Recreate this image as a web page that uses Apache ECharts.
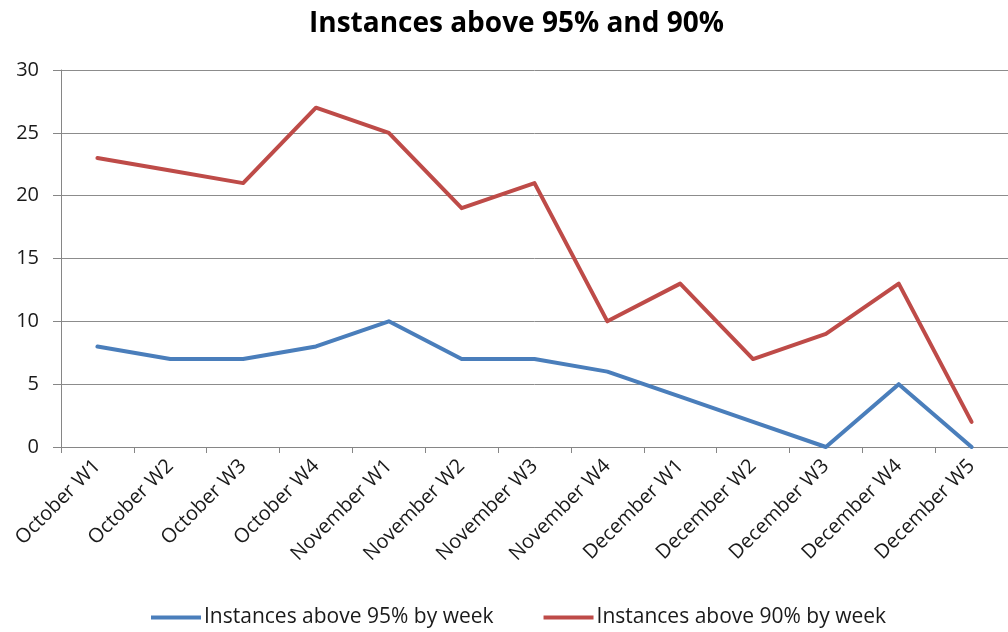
<!DOCTYPE html>
<html>
<head>
<meta charset="utf-8">
<script src="https://cdn.jsdelivr.net/npm/echarts@6/dist/echarts.min.js"></script>
<style>
  html, body { margin: 0; padding: 0; background: #fff; }
  #chart { width: 1008px; height: 632px; }
</style>
</head>
<body>
<div id="chart"></div>
<script>
// Weekly counts of instances above the 95% and 90% thresholds
const weeks = [
  'October W1', 'October W2', 'October W3', 'October W4',
  'November W1', 'November W2', 'November W3', 'November W4',
  'December W1', 'December W2', 'December W3', 'December W4', 'December W5'
];
const above95 = [8, 7, 7, 8, 10, 7, 7, 6, 4, 2, 0, 5, 0];
const above90 = [23, 22, 21, 27, 25, 19, 21, 10, 13, 7, 9, 13, 2];
const seriesNames = ['Instances above 95% by week', 'Instances above 90% by week'];
const chartTitle = 'Instances above 95% and 90%';

const FONT = '"Open Sans"';
const chart = echarts.init(document.getElementById('chart'), null, { renderer: 'canvas' });

chart.setOption({
  animation: false,
  backgroundColor: '#ffffff',
  title: {
    text: chartTitle,
    left: 304,
    top: 5,
    textStyle: { fontFamily: FONT, fontSize: 28, fontWeight: 'bold', color: '#000' }
  },
  legend: {
    bottom: -1,
    left: 146,
    itemWidth: 50,
    itemHeight: 4,
    itemGap: 50,
    icon: 'rect',
    textStyle: { fontFamily: FONT, fontSize: 21, color: '#1a1a1a', padding: [0, 0, 0, -2] },
    data: seriesNames
  },
  grid: { left: 61, right: -8, top: 70, bottom: 185, containLabel: false },
  xAxis: {
    type: 'category',
    data: weeks,
    boundaryGap: true,
    axisLine: { lineStyle: { color: '#868686', width: 1 } },
    axisTick: { show: true, length: 6, lineStyle: { color: '#868686' } },
    axisLabel: { rotate: 45, margin: 16, fontFamily: FONT, fontSize: 20, color: '#1a1a1a', interval: 0 }
  },
  yAxis: {
    type: 'value',
    min: 0,
    max: 30,
    interval: 5,
    axisLine: { show: true, lineStyle: { color: '#868686', width: 1 } },
    axisTick: { show: true, length: 8, lineStyle: { color: '#868686' } },
    axisLabel: { margin: 22, fontFamily: FONT, fontSize: 20, color: '#1a1a1a' },
    splitLine: { lineStyle: { color: '#8c8c8c', width: 1 } }
  },
  series: [
    {
      name: seriesNames[0],
      type: 'line',
      data: above95,
      showSymbol: false,
      symbol: 'none',
      lineStyle: { color: '#4A7EBB', width: 4, join: 'round', cap: 'round' },
      itemStyle: { color: '#4A7EBB' }
    },
    {
      name: seriesNames[1],
      type: 'line',
      data: above90,
      showSymbol: false,
      symbol: 'none',
      lineStyle: { color: '#BE4B48', width: 4, join: 'round', cap: 'round' },
      itemStyle: { color: '#BE4B48' }
    }
  ]
});
</script>
</body>
</html>
